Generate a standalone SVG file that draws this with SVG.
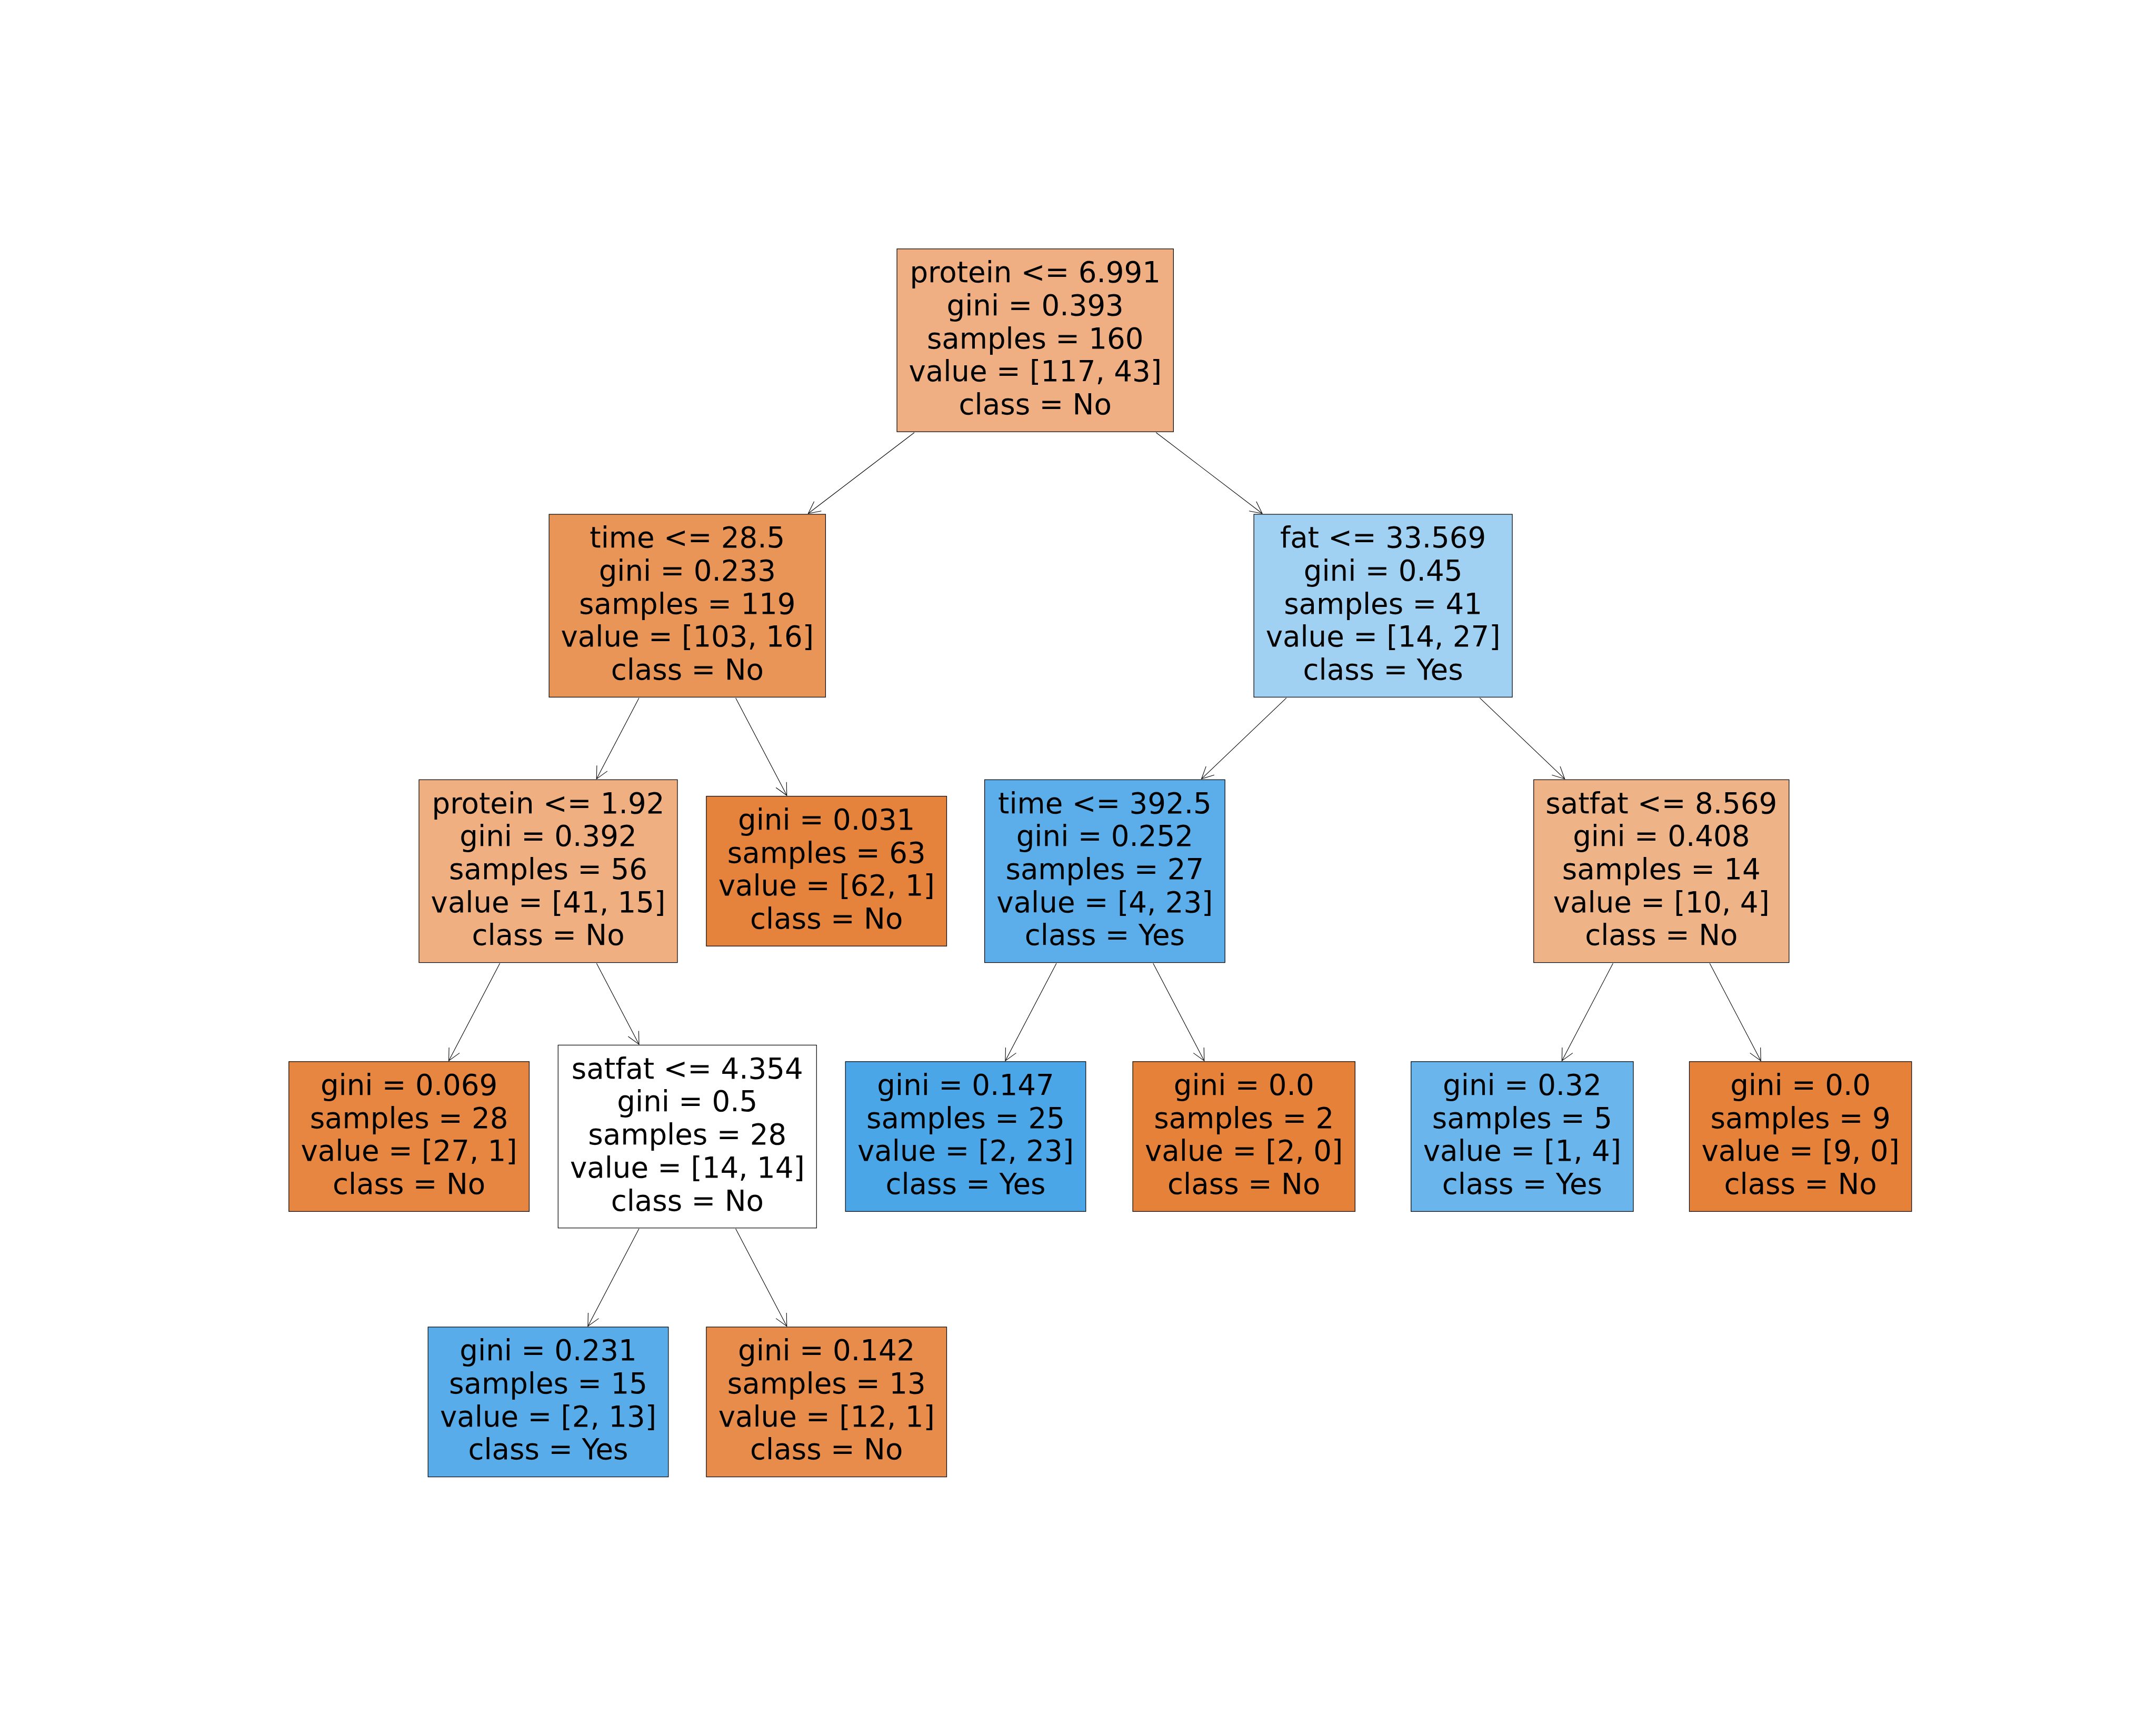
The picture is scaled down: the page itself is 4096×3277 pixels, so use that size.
<svg xmlns="http://www.w3.org/2000/svg" width="4096" height="3277" viewBox="0 0 4096 3277">
<style>
.node rect{stroke:#000;stroke-width:1.2}
.node text{font-family:"DejaVu Sans","Liberation Sans",sans-serif;font-size:54.6px;text-anchor:middle;fill:#000}
#edges line{stroke:#000;stroke-width:1.1;marker-end:url(#arr)}
</style>
<defs>
<marker id="arr" markerWidth="30" markerHeight="30" viewBox="-26 -15 30 30" refX="0" refY="0" orient="auto" markerUnits="userSpaceOnUse">
<path d="M-22.7,-11.3 L0,0 L-22.7,11.3" fill="none" stroke="#000" stroke-width="1.1"/>
</marker>
</defs>
<rect width="4096" height="3277" fill="#fff"/>
<g id="edges">
<line x1="1737.05" y1="821.7" x2="1535.45" y2="975.5"/>
<line x1="2196.35" y1="821.7" x2="2397.95" y2="975.5"/>
<line x1="1213.96" y1="1325.9" x2="1133.34" y2="1479.7"/>
<line x1="1397.67" y1="1325.9" x2="1494.76" y2="1511.05"/>
<line x1="2443.89" y1="1325.9" x2="2282.61" y2="1479.7"/>
<line x1="2811.31" y1="1325.9" x2="2972.59" y2="1479.7"/>
<line x1="949.63" y1="1830.1" x2="852.54" y2="2015.25"/>
<line x1="1133.34" y1="1830.1" x2="1213.96" y2="1983.9"/>
<line x1="2007.03" y1="1830.1" x2="1909.94" y2="2015.25"/>
<line x1="2190.74" y1="1830.1" x2="2287.79" y2="2015.25"/>
<line x1="3064.43" y1="1830.1" x2="2967.34" y2="2015.25"/>
<line x1="3248.14" y1="1830.1" x2="3345.19" y2="2015.25"/>
<line x1="1213.96" y1="2334.3" x2="1116.91" y2="2519.45"/>
<line x1="1397.67" y1="2334.3" x2="1494.76" y2="2519.45"/>
</g>
<g id="n0" class="node"><rect x="1704.05" y="472.8" width="525.3" height="347.4" fill="#efaf82"/>
<text><tspan x="1966.7" y="536.1">protein &lt;= 6.991</tspan><tspan x="1966.7" y="598.8">gini = 0.393</tspan><tspan x="1966.7" y="661.5">samples = 160</tspan><tspan x="1966.7" y="724.2">value = [117, 43]</tspan><tspan x="1966.7" y="786.9">class = No</tspan></text></g>
<g id="n1" class="node"><rect x="1043.15" y="977" width="525.3" height="347.4" fill="#e99558"/>
<text><tspan x="1305.8" y="1040.3">time &lt;= 28.5</tspan><tspan x="1305.8" y="1103">gini = 0.233</tspan><tspan x="1305.8" y="1165.7">samples = 119</tspan><tspan x="1305.8" y="1228.4">value = [103, 16]</tspan><tspan x="1305.8" y="1291.1">class = No</tspan></text></g>
<g id="n8" class="node"><rect x="2382.1" y="977" width="491" height="347.4" fill="#a0d0f2"/>
<text><tspan x="2627.6" y="1040.3">fat &lt;= 33.569</tspan><tspan x="2627.6" y="1103">gini = 0.45</tspan><tspan x="2627.6" y="1165.7">samples = 41</tspan><tspan x="2627.6" y="1228.4">value = [14, 27]</tspan><tspan x="2627.6" y="1291.1">class = Yes</tspan></text></g>
<g id="n2" class="node"><rect x="796" y="1481.2" width="491" height="347.4" fill="#efaf81"/>
<text><tspan x="1041.5" y="1544.5">protein &lt;= 1.92</tspan><tspan x="1041.5" y="1607.2">gini = 0.392</tspan><tspan x="1041.5" y="1669.9">samples = 56</tspan><tspan x="1041.5" y="1732.6">value = [41, 15]</tspan><tspan x="1041.5" y="1795.3">class = No</tspan></text></g>
<g id="n7" class="node"><rect x="1341.9" y="1512.55" width="456.6" height="284.7" fill="#e5833c"/>
<text><tspan x="1570.2" y="1575.85">gini = 0.031</tspan><tspan x="1570.2" y="1638.55">samples = 63</tspan><tspan x="1570.2" y="1701.25">value = [62, 1]</tspan><tspan x="1570.2" y="1763.95">class = No</tspan></text></g>
<g id="n9" class="node"><rect x="1870.6" y="1481.2" width="456.6" height="347.4" fill="#5baeea"/>
<text><tspan x="2098.9" y="1544.5">time &lt;= 392.5</tspan><tspan x="2098.9" y="1607.2">gini = 0.252</tspan><tspan x="2098.9" y="1669.9">samples = 27</tspan><tspan x="2098.9" y="1732.6">value = [4, 23]</tspan><tspan x="2098.9" y="1795.3">class = Yes</tspan></text></g>
<g id="n12" class="node"><rect x="2913.75" y="1481.2" width="485.1" height="347.4" fill="#efb388"/>
<text><tspan x="3156.3" y="1544.5">satfat &lt;= 8.569</tspan><tspan x="3156.3" y="1607.2">gini = 0.408</tspan><tspan x="3156.3" y="1669.9">samples = 14</tspan><tspan x="3156.3" y="1732.6">value = [10, 4]</tspan><tspan x="3156.3" y="1795.3">class = No</tspan></text></g>
<g id="n3" class="node"><rect x="548.8" y="2016.75" width="456.6" height="284.7" fill="#e68640"/>
<text><tspan x="777.1" y="2080.05">gini = 0.069</tspan><tspan x="777.1" y="2142.75">samples = 28</tspan><tspan x="777.1" y="2205.45">value = [27, 1]</tspan><tspan x="777.1" y="2268.15">class = No</tspan></text></g>
<g id="n4" class="node"><rect x="1060.3" y="1985.4" width="491" height="347.4" fill="#ffffff"/>
<text><tspan x="1305.8" y="2048.7">satfat &lt;= 4.354</tspan><tspan x="1305.8" y="2111.4">gini = 0.5</tspan><tspan x="1305.8" y="2174.1">samples = 28</tspan><tspan x="1305.8" y="2236.8">value = [14, 14]</tspan><tspan x="1305.8" y="2299.5">class = No</tspan></text></g>
<g id="n10" class="node"><rect x="1606.2" y="2016.75" width="456.6" height="284.7" fill="#4aa6e7"/>
<text><tspan x="1834.5" y="2080.05">gini = 0.147</tspan><tspan x="1834.5" y="2142.75">samples = 25</tspan><tspan x="1834.5" y="2205.45">value = [2, 23]</tspan><tspan x="1834.5" y="2268.15">class = Yes</tspan></text></g>
<g id="n11" class="node"><rect x="2152.05" y="2016.75" width="422.3" height="284.7" fill="#e58139"/>
<text><tspan x="2363.2" y="2080.05">gini = 0.0</tspan><tspan x="2363.2" y="2142.75">samples = 2</tspan><tspan x="2363.2" y="2205.45">value = [2, 0]</tspan><tspan x="2363.2" y="2268.15">class = No</tspan></text></g>
<g id="n13" class="node"><rect x="2680.75" y="2016.75" width="422.3" height="284.7" fill="#6ab6ec"/>
<text><tspan x="2891.9" y="2080.05">gini = 0.32</tspan><tspan x="2891.9" y="2142.75">samples = 5</tspan><tspan x="2891.9" y="2205.45">value = [1, 4]</tspan><tspan x="2891.9" y="2268.15">class = Yes</tspan></text></g>
<g id="n14" class="node"><rect x="3209.45" y="2016.75" width="422.3" height="284.7" fill="#e58139"/>
<text><tspan x="3420.6" y="2080.05">gini = 0.0</tspan><tspan x="3420.6" y="2142.75">samples = 9</tspan><tspan x="3420.6" y="2205.45">value = [9, 0]</tspan><tspan x="3420.6" y="2268.15">class = No</tspan></text></g>
<g id="n5" class="node"><rect x="813.2" y="2520.95" width="456.6" height="284.7" fill="#57ace9"/>
<text><tspan x="1041.5" y="2584.25">gini = 0.231</tspan><tspan x="1041.5" y="2646.95">samples = 15</tspan><tspan x="1041.5" y="2709.65">value = [2, 13]</tspan><tspan x="1041.5" y="2772.35">class = Yes</tspan></text></g>
<g id="n6" class="node"><rect x="1341.9" y="2520.95" width="456.6" height="284.7" fill="#e78c4a"/>
<text><tspan x="1570.2" y="2584.25">gini = 0.142</tspan><tspan x="1570.2" y="2646.95">samples = 13</tspan><tspan x="1570.2" y="2709.65">value = [12, 1]</tspan><tspan x="1570.2" y="2772.35">class = No</tspan></text></g>
</svg>
